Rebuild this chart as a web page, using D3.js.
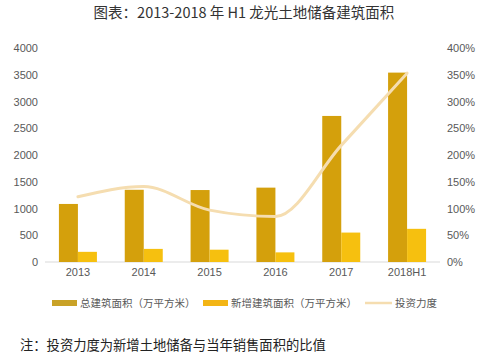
<!DOCTYPE html>
<html>
<head>
<meta charset="utf-8">
<script src="https://cdn.jsdelivr.net/npm/d3@7"></script>
<style>
html,body{margin:0;padding:0;background:#fff;}
svg{display:block;font-family:"Noto Sans CJK SC","Noto Sans",sans-serif;}
</style>
</head>
<body>
<svg id="chart" width="492" height="358"></svg>
<script>
const categories = ["2013","2014","2015","2016","2017","2018H1"];
const totalArea = [1085, 1350, 1345, 1390, 2730, 3540];
const newArea = [190, 245, 230, 180, 550, 620];
const investRatio = [1.22, 1.41, 0.97, 0.85, 2.18, 3.53];
const leftTicks = [0,500,1000,1500,2000,2500,3000,3500,4000];
const rightTicks = [0,0.5,1,1.5,2,2.5,3,3.5,4];
const seriesNames = ["总建筑面积（万平方米）","新增建筑面积（万平方米）","投资力度"];
const titleText = "图表：2013-2018 年 H1 龙光土地储备建筑面积";
const noteText = "注：投资力度为新增土地储备与当年销售面积的比值";

const svg = d3.select("#chart");
const colTotal = "#D4A00C", colNew = "#F6C00F", colLine = "#F5DDB0";

const x = d3.scaleBand().domain(categories).range([45, 440]).padding(0);
const yL = d3.scaleLinear().domain([0, 4000]).range([262, 48]);
const yR = d3.scaleLinear().domain([0, 4]).range([262, 48]);
const barW = 19;

// title
svg.append("text").attr("x", 244).attr("y", 18).attr("text-anchor", "middle")
  .attr("font-size", 14.5).attr("fill", "#333").text(titleText);

// axis baseline
svg.append("line").attr("x1", 45).attr("x2", 440).attr("y1", yL(0)).attr("y2", yL(0))
  .attr("stroke", "#D9D9D9").attr("stroke-width", 1);

// left axis
const axL = d3.axisLeft(yL).tickValues(leftTicks).tickSize(0).tickPadding(0).tickFormat(d3.format("d"));
const gL = svg.append("g").attr("transform", "translate(38,0)").call(axL);
gL.select(".domain").remove();
gL.selectAll("text").attr("font-size", 11).attr("fill", "#595959").attr("font-family", "Liberation Sans, Arial, sans-serif");

// right axis
const axR = d3.axisRight(yR).tickValues(rightTicks).tickSize(0).tickPadding(0).tickFormat(d => Math.round(d*100) + "%");
const gR = svg.append("g").attr("transform", "translate(447,0)").call(axR);
gR.select(".domain").remove();
gR.selectAll("text").attr("font-size", 11).attr("fill", "#595959").attr("font-family", "Liberation Sans, Arial, sans-serif");

// x axis
const axX = d3.axisBottom(x).tickSize(0).tickPadding(0);
const gX = svg.append("g").attr("transform", "translate(0,268)").call(axX);
gX.select(".domain").remove();
gX.selectAll("text").attr("font-size", 11).attr("fill", "#595959").attr("font-family", "Liberation Sans, Arial, sans-serif");

// bars
const cx = d => x(d) + x.bandwidth() / 2;
svg.append("g").selectAll("rect").data(categories).join("rect")
  .attr("x", d => cx(d) - barW).attr("width", barW)
  .attr("y", (d, i) => yL(totalArea[i])).attr("height", (d, i) => yL(0) - yL(totalArea[i]))
  .attr("fill", colTotal);
svg.append("g").selectAll("rect").data(categories).join("rect")
  .attr("x", d => cx(d)).attr("width", barW)
  .attr("y", (d, i) => yL(newArea[i])).attr("height", (d, i) => yL(0) - yL(newArea[i]))
  .attr("fill", colNew);

// line
const line = d3.line().x((d, i) => cx(categories[i])).y(d => yR(d)).curve(d3.curveMonotoneX);
svg.append("path").datum(investRatio).attr("d", line)
  .attr("fill", "none").attr("stroke", colLine).attr("stroke-width", 3).attr("stroke-linecap", "round");

// legend
const legY = 303;
const leg = svg.append("g").attr("font-size", 10.5).attr("fill", "#595959");
leg.append("rect").attr("x", 52).attr("y", legY - 3).attr("width", 25).attr("height", 6).attr("fill", "#C9A227");
leg.append("text").attr("x", 80).attr("y", legY + 4).text(seriesNames[0]);
leg.append("rect").attr("x", 203).attr("y", legY - 3).attr("width", 25).attr("height", 6).attr("fill", "#F3B515");
leg.append("text").attr("x", 231).attr("y", legY + 4).text(seriesNames[1]);
leg.append("line").attr("x1", 365).attr("x2", 392).attr("y1", legY).attr("y2", legY)
  .attr("stroke", colLine).attr("stroke-width", 2.5);
leg.append("text").attr("x", 395).attr("y", legY + 4).text(seriesNames[2]);

// note
svg.append("text").attr("x", 20).attr("y", 350).attr("font-size", 13.3).attr("fill", "#222").text(noteText);
</script>
</body>
</html>
